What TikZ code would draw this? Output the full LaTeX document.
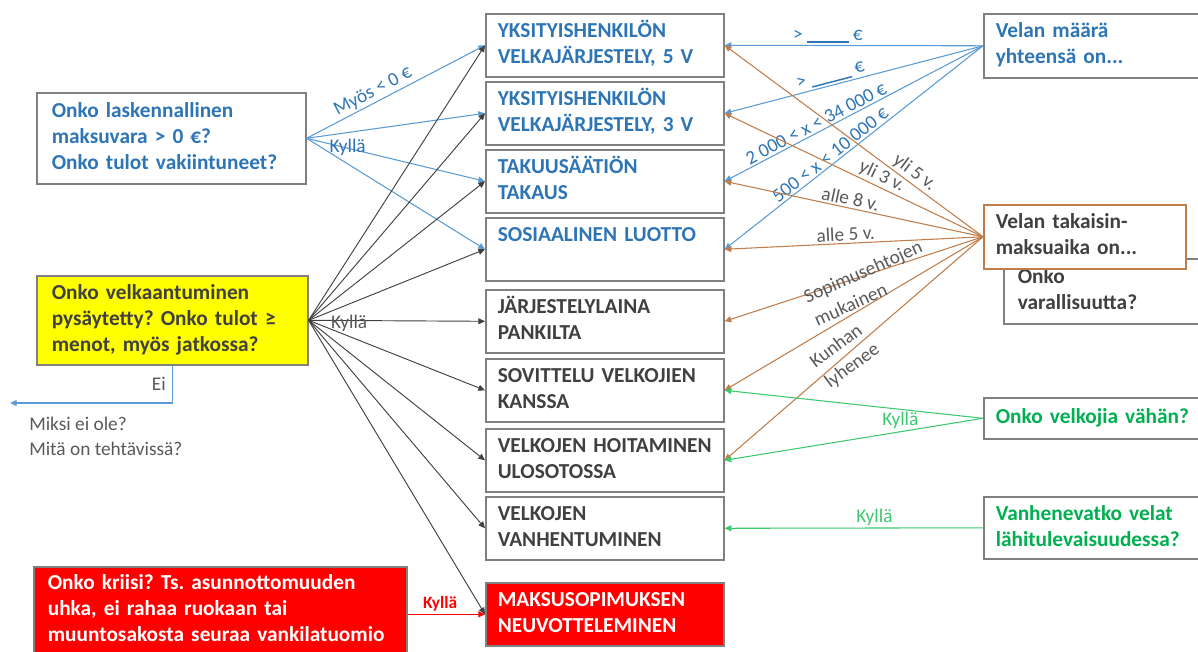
\documentclass[tikz,border=0pt]{standalone}
\usepackage{fontspec}
\setmainfont{Carlito}
\usetikzlibrary{arrows.meta}
\definecolor{tblue}{RGB}{46,117,182}
\definecolor{lblue}{RGB}{91,155,213}
\definecolor{dgray}{RGB}{64,64,64}
\definecolor{lgray}{RGB}{89,89,89}
\definecolor{bgray}{RGB}{128,128,128}
\definecolor{brownl}{RGB}{191,125,75}
\definecolor{greent}{RGB}{0,176,80}
\definecolor{greenl}{RGB}{60,200,110}
\definecolor{yel}{RGB}{255,255,0}
\definecolor{redf}{RGB}{255,0,0}
\newcommand{\tline}[1]{\mbox{\strut #1}}
\frenchspacing
\begin{document}
\begin{tikzpicture}[x=0.75pt,y=-0.75pt,
  >={Triangle[length=5pt,width=4.5pt]},
  bx/.style={draw=bgray, line width=1.2pt, anchor=north west, align=left,
    inner xsep=9pt, inner ysep=0pt, fill=white,
    font=\fontsize{16}{19.5}\selectfont\bfseries\frenchspacing},
  mid/.style={bx, minimum width=178.5pt, minimum height=47.25pt, text width=160.5pt},
  lbl/.style={font=\fontsize{14.5}{18.75}\selectfont\frenchspacing, text=lgray, inner sep=1.5pt},
  bline/.style={draw=lblue, line width=0.8pt},
  kline/.style={draw=dgray, line width=0.7pt},
  brline/.style={draw=brownl, line width=0.8pt},
  gline/.style={draw=greenl, line width=0.8pt},
]
\useasboundingbox (0,0) rectangle (1198,652);

% middle column
\node[mid, text=tblue] (box1) at (485,13) {\tline{YKSITYISHENKILÖN}\\\tline{VELKAJÄRJESTELY, 5 V}};
\node[mid, text=tblue] (box2) at (485,81) {\tline{YKSITYISHENKILÖN}\\\tline{VELKAJÄRJESTELY, 3 V}};
\node[mid, text=tblue] (box3) at (485,149) {\tline{TAKUUSÄÄTIÖN}\\\tline{TAKAUS}};
\node[mid, text=tblue] (box4) at (485,217) {\tline{SOSIAALINEN LUOTTO}\\\tline{}};
\node[mid, text=dgray] (box5) at (485,289) {\tline{JÄRJESTELYLAINA}\\\tline{PANKILTA}};
\node[mid, text=dgray] (box6) at (485,358) {\tline{SOVITTELU VELKOJIEN}\\\tline{KANSSA}};
\node[mid, text=dgray] (box7) at (485,428) {\tline{VELKOJEN HOITAMINEN}\\\tline{ULOSOTOSSA}};
\node[mid, text=dgray] (box8) at (485,496) {\tline{VELKOJEN}\\\tline{VANHENTUMINEN}};
\node[mid, fill=redf, text=white] (box9) at (485,582) {\tline{MAKSUSOPIMUKSEN}\\\tline{NEUVOTTELEMINEN}};

% left column
\node[bx, text=tblue, minimum width=201.75pt, minimum height=68.25pt, text width=179.25pt, inner xsep=11.25pt] (blueq) at (36,92)
  {\tline{Onko laskennallinen}\\\tline{maksuvara > 0 €?}\\\tline{Onko tulot vakiintuneet?}};
\node[bx, fill=yel, text=dgray, minimum width=203.25pt, minimum height=66.75pt, text width=180.75pt, inner xsep=11.25pt] (yellow) at (36,275)
  {\tline{Onko velkaantuminen}\\\tline{pysäytetty? Onko tulot ≥}\\\tline{menot, myös jatkossa?}};
\node[bx, fill=redf, text=white, minimum width=279.75pt, minimum height=64.5pt, text width=258.75pt, inner xsep=10.5pt] (crisis) at (33,566)
  {\tline{Onko kriisi? Ts. asunnottomuuden}\\\tline{uhka, ei rahaa ruokaan tai}\\\tline{muuntosakosta seuraa vankilatuomio}};

% right column
\node[bx, text=tblue, minimum width=163.5pt, minimum height=48pt, text width=145.5pt] (maara) at (983,13)
  {\tline{Velan määrä}\\\tline{yhteensä on...}};
\node[bx, text=dgray, minimum width=148.5pt, minimum height=48.75pt, text width=127.5pt, inner xsep=10.5pt] (varall) at (1003,258)
  {\tline{Onko}\\\tline{varallisuutta?}};
\node[bx, draw=brownl, text=dgray, minimum width=151.5pt, minimum height=48pt, text width=133.5pt] (takaisin) at (983,204)
  {\tline{Velan takaisin-}\\\tline{maksuaika on...}};
\node[bx, text=greent, minimum width=163.5pt, minimum height=30.75pt, text width=145.5pt] (velkojia) at (983,397)
  {\tline{Onko velkojia vähän?}};
\node[bx, text=greent, minimum width=163.5pt, minimum height=46.5pt, text width=145.5pt] (vanhen) at (983,496)
  {\tline{Vanhenevatko velat}\\\tline{lähitulevaisuudessa?}};

% blue connectors from left question
\draw[bline,->] (blueq.east) -- node[lbl, text=tblue, sloped, above, pos=0.4] {Myös < 0 €} (box1.west);
\draw[bline,->] (blueq.east) -- (box2.west);
\draw[bline,->] (blueq.east) -- node[lbl, text=tblue, pos=0.23, yshift=1pt] {Kyllä} (box3.west);
\draw[bline,->] (blueq.east) -- (box4.west);

% dark connectors from yellow
\foreach \i in {1,2,3,4,6,7,8,9} {\draw[kline,->] (yellow.east) -- (box\i.west);}
\draw[kline,->] (yellow.east) -- node[lbl, pos=0.23, yshift=-2pt] {Kyllä} (box5.west);

% Ei
\coordinate (eiend) at (10,403);
\draw[bline,->] (yellow.south) |- node[lbl, left, pos=0.25, xshift=-3pt] {Ei} (eiend);
\node[lbl, anchor=north west, align=left] (miksi) at (27,415) {Miksi ei ole?\\Mitä on tehtävissä?};

% red
\draw[draw=redf, line width=0.9pt, ->] (crisis.east |- box9.west) -- node[above, pos=0.42, text=redf, font=\fontsize{13}{15}\selectfont\bfseries, inner sep=2pt] {Kyllä} (box9.west);

% blue connectors from right
\draw[bline,<-] (box1.east) -- node[lbl, text=tblue, above, pos=0.40] {> \rule[-2.2pt]{31pt}{1.1pt} €} (maara.west);
\draw[bline,<-] (box2.east) -- node[lbl, text=tblue, sloped, above, pos=0.42] {> \rule[-2.2pt]{31pt}{1.1pt} €} (maara.west);
\draw[bline,<-] (box3.east) -- node[lbl, text=tblue, sloped, above, pos=0.37] {2 000 < x < 34 000 €} (maara.west);
\draw[bline,<-] (box4.east) -- node[lbl, text=tblue, sloped, above, pos=0.43] {500 < x < 10 000 €} (maara.west);

% brown connectors
\draw[brline,<-] (box1.east) -- node[lbl, sloped, above, pos=0.71] {yli 5 v.} (takaisin.west);
\draw[brline,<-] (box2.east) -- node[lbl, sloped, above, pos=0.59] {yli 3 v.} (takaisin.west);
\draw[brline,<-] (box3.east) -- node[lbl, sloped, above, pos=0.48] {alle 8 v.} (takaisin.west);
\draw[brline,<-] (box4.east) -- node[lbl, sloped, above, pos=0.47] {alle 5 v.} (takaisin.west);
\draw[brline,<-] (box5.east) -- (takaisin.west);
\draw[brline,<-] (box6.east) -- (takaisin.west);
\draw[brline,<-] (box7.east) -- (takaisin.west);
\node[lbl, rotate=24, align=left] (lsop) at (868,283) {Sopimusehtojen\\mukainen};
\node[lbl, rotate=36.5, align=left] (lkun) at (845,356) {Kunhan\\lyhenee};

% green connectors
\draw[gline,<-] (box6.east) -- node[lbl, text=greenl, below, pos=0.68] {Kyllä} (velkojia.west);
\draw[gline,<-] (box7.east) -- (velkojia.west);
\draw[gline,<-] (box8.east) -- node[lbl, text=greenl, above, pos=0.58] {Kyllä} (vanhen.west);
\end{tikzpicture}
\end{document}
